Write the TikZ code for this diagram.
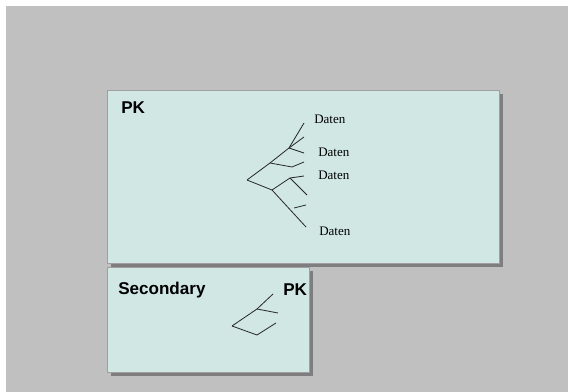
\documentclass[tikz,border=0pt]{standalone}
\usepackage{fontspec}
\setmainfont{Liberation Serif}
\setsansfont{Liberation Sans}
\usetikzlibrary{positioning}
\definecolor{background}{HTML}{C0C0C0}
\definecolor{boxfill}{HTML}{D0E7E4}
\definecolor{boxshadow}{HTML}{7E7E7E}

\begin{document}
\begin{tikzpicture}[x=0.75pt,y=-0.75pt,
  tablebox/.style={fill=boxfill,draw=gray!75,line width=0.5pt},
  tableshadow/.style={fill=boxshadow},
  title/.style={font=\sffamily\bfseries\fontsize{12.8}{14}\selectfont,anchor=base west,inner sep=0pt},
  daten/.style={font=\fontsize{9.75}{11}\selectfont,anchor=base west,inner sep=0pt},
  branch/.style={line width=0.6pt,black!85}]
\useasboundingbox (0,0) rectangle (568,392);

%draw background
\fill[white] (0,0) rectangle (568,392);
\fill[background] (6,6) rectangle (568,392);

%draw boxes with shadow
\fill[tableshadow] (111,94) rectangle (503,267);
\draw[tablebox] (107,90) rectangle (499,263);
\fill[tableshadow] (111,271) rectangle (313,376);
\draw[tablebox] (107,267) rectangle (309,372);

\node[title] (pk) at (121,114) {PK};
\node[title] (secondary) at (118,295) {Secondary};
\node[title] (pk2) at (283,296) {PK};

%draw labels
\node[daten] (d1) at (314,124) {Daten};
\node[daten] (d2) at (318,157) {Daten};
\node[daten] (d3) at (318,180) {Daten};
\node[daten] (d4) at (319,236) {Daten};

%draw tree of primary key
\coordinate (r) at (247,180);
\coordinate (a) at (270,163);
\coordinate (b) at (289,148);
\coordinate (c) at (272,190);
\coordinate (e) at (290,178);
\coordinate (f) at (292,167);
\coordinate (g) at (294,208);
\draw[branch] (r) -- (a) -- (b) -- (304,123);
\draw[branch] (b) -- (304,137);
\draw[branch] (b) -- (304,153);
\draw[branch] (a) -- (f) -- (304,162);
\draw[branch] (r) -- (c) -- (e) -- (304,176);
\draw[branch] (e) -- (307,195);
\draw[branch] (c) -- (306,227);
\draw[branch] (g) -- (306,205);

%draw tree of secondary key
\coordinate (sr) at (232,326);
\coordinate (se) at (257,309);
\coordinate (sf) at (257,335);
\draw[branch] (sr) -- (se) -- (273,294);
\draw[branch] (se) -- (278,313);
\draw[branch] (sr) -- (sf) -- (276,323);
\end{tikzpicture}
\end{document}
